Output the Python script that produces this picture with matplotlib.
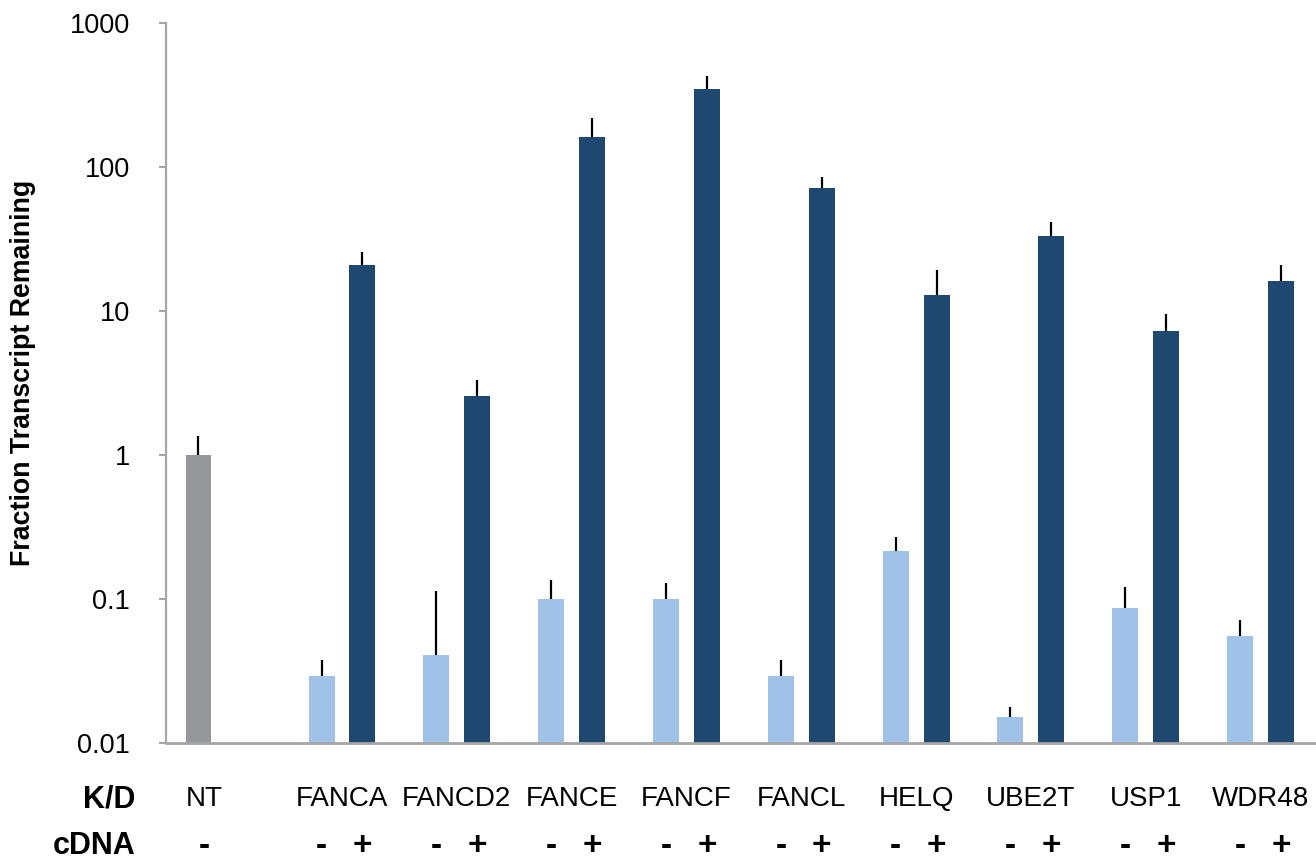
import matplotlib
matplotlib.use("Agg")
import matplotlib.pyplot as plt
from matplotlib.ticker import FixedLocator, FixedFormatter, NullLocator

plt.rcParams["font.family"] = ["Liberation Sans", "DejaVu Sans"]

# Knock-down targets and their transcript levels
genes = ["FANCA", "FANCD2", "FANCE", "FANCF", "FANCL", "HELQ", "UBE2T", "USP1", "WDR48"]
nt_value = 1.0
nt_err = 0.35
knockdown = [0.029, 0.041, 0.10, 0.10, 0.029, 0.215, 0.0152, 0.087, 0.055]
knockdown_err = [0.0085, 0.072, 0.035, 0.029, 0.0085, 0.053, 0.0026, 0.035, 0.016]
rescue = [20.8, 2.57, 162, 348, 71.5, 12.9, 33.2, 7.26, 16.2]
rescue_err = [4.8, 0.73, 56, 80, 13.3, 6.3, 8.1, 2.23, 4.6]

y_ticks = [0.01, 0.1, 1, 10, 100, 1000]
y_tick_labels = ["0.01", "0.1", "1", "10", "100", "1000"]

GRAY = "#96979B"
LIGHT = "#A0C2E8"
DARK = "#1E4870"
AXIS = "#A6A6A6"

W, H = 1316, 860
fig = plt.figure(figsize=(W / 100, H / 100), dpi=100)
ax = fig.add_axes([166 / W, 1 - 743 / H, (W - 166) / W, 720 / H])
ax.set_yscale("log", nonpositive="clip")

bar_w = 0.226
off = 0.178
centers = [i + 1 for i in range(len(genes))]
x_kd = [c - off for c in centers]
x_rs = [c + off for c in centers]
x_nt = -0.25

ax.bar([x_nt], [nt_value], width=bar_w, color=GRAY, zorder=2)
ax.bar(x_kd, knockdown, width=bar_w, color=LIGHT, zorder=2)
ax.bar(x_rs, rescue, width=bar_w, color=DARK, zorder=2)

err_kw = dict(fmt="none", ecolor="black", elinewidth=1.6, capsize=0, zorder=3)
ax.errorbar([x_nt], [nt_value], yerr=[[0], [nt_err]], **err_kw)
ax.errorbar(x_kd, knockdown, yerr=[[0] * len(genes), knockdown_err], **err_kw)
ax.errorbar(x_rs, rescue, yerr=[[0] * len(genes), rescue_err], **err_kw)

ax.set_xlim(-0.533, 9.483)
ax.set_ylim(0.01, 1000)
ax.yaxis.set_major_locator(FixedLocator(y_ticks))
ax.yaxis.set_major_formatter(FixedFormatter(y_tick_labels))
ax.yaxis.set_minor_locator(NullLocator())
ax.xaxis.set_major_locator(NullLocator())
ax.xaxis.set_minor_locator(NullLocator())
ax.tick_params(axis="y", which="major", direction="out", length=5, width=1.5,
               color=AXIS, pad=21, labelsize=19.5, labelcolor="black")

for side in ("top", "right"):
    ax.spines[side].set_visible(False)
ax.spines["left"].set_color(AXIS)
ax.spines["left"].set_linewidth(1.6)
ax.spines["bottom"].set_color(AXIS)
ax.spines["bottom"].set_linewidth(2.0)
ax.spines["bottom"].set_zorder(4)

ax.set_ylabel("Fraction Transcript Remaining", fontsize=19.3, fontweight="bold")
ax.yaxis.set_label_coords(-(166 - 36) / (W - 166), 0.514)

# Annotation rows under the axis: knock-down target and cDNA rescue
tr = ax.get_xaxis_transform()
row_kd = (743 - 799) / 720
row_cd = (743 - 846) / 720

fig.text(135 / W, 1 - 799 / H, "K/D", ha="right", va="center", fontsize=22, fontweight="bold")
fig.text(135 / W, 1 - 846 / H, "cDNA", ha="right", va="center", fontsize=22, fontweight="bold")

ax.text(-0.2, row_kd, "NT", transform=tr, ha="center", va="center", fontsize=20, clip_on=False)
ax.text(-0.2, row_cd, "-", transform=tr, ha="center", va="center", fontsize=24,
        fontweight="bold", clip_on=False)
for c, g, xk, xr in zip(centers, genes, x_kd, x_rs):
    ax.text(c, row_kd, g, transform=tr, ha="center", va="center", fontsize=20, clip_on=False)
    ax.text(xk, row_cd, "-", transform=tr, ha="center", va="center", fontsize=24,
            fontweight="bold", clip_on=False)
    ax.text(xr, row_cd, "+", transform=tr, ha="center", va="center", fontsize=24,
            fontweight="bold", clip_on=False)

fig.savefig("out.png", dpi=100)
